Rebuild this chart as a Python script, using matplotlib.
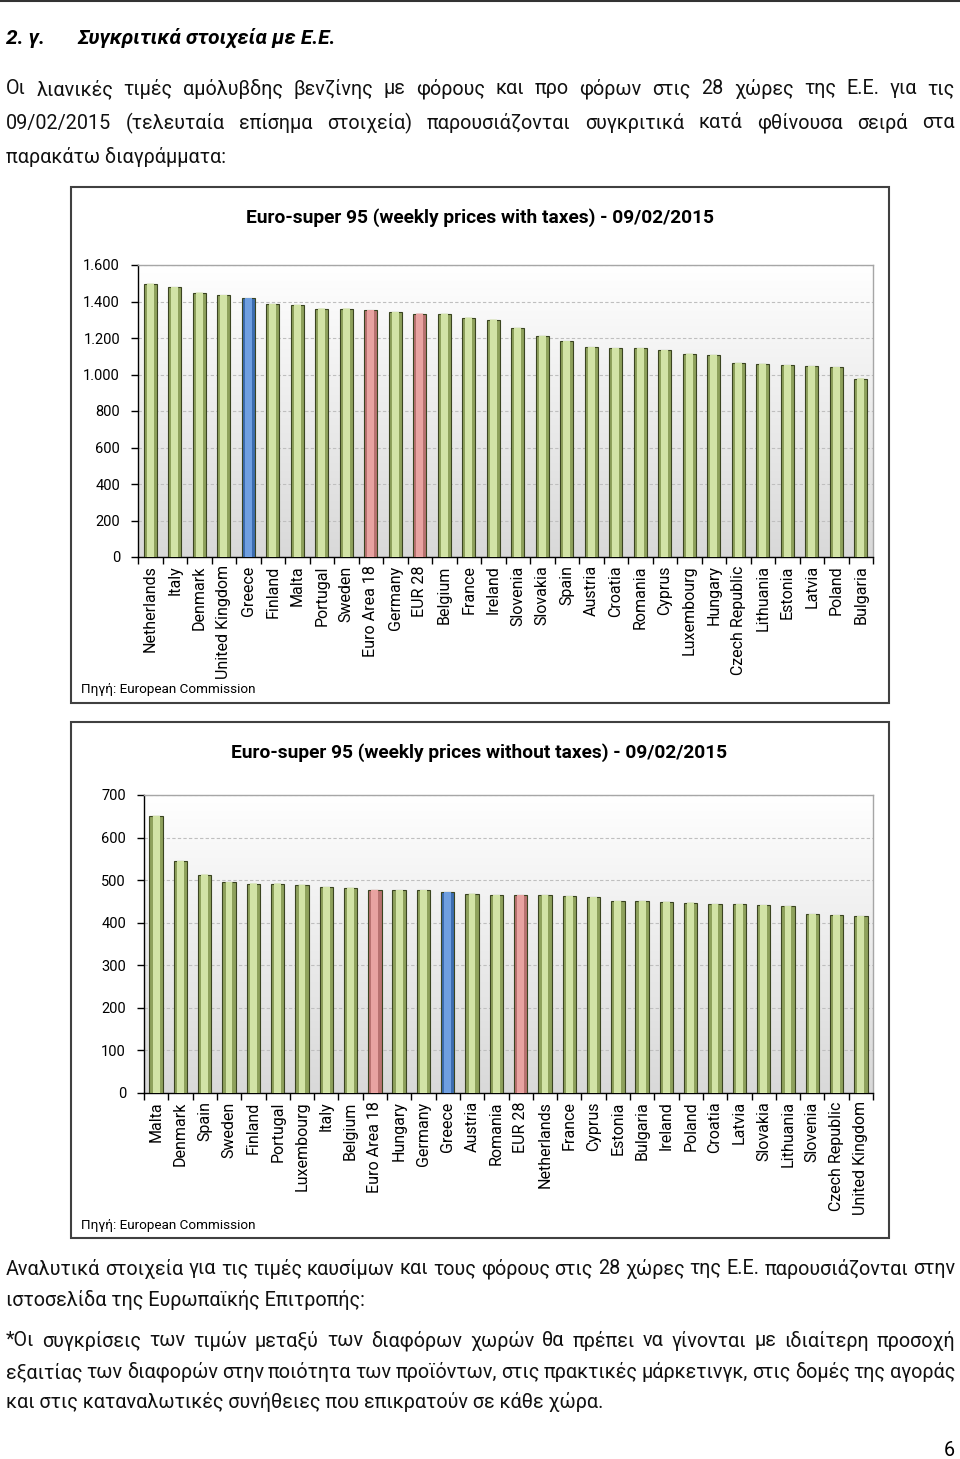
import numpy as np
import matplotlib
matplotlib.use('Agg')
import matplotlib.pyplot as plt
from matplotlib.patches import Rectangle
from matplotlib.ticker import FuncFormatter

plt.rcParams['font.family'] = ['Roboto', 'DejaVu Sans']

# chart 1: prices with taxes, 09/02/2015
countries_tax = ['Netherlands', 'Italy', 'Denmark', 'United Kingdom', 'Greece', 'Finland',
                 'Malta', 'Portugal', 'Sweden', 'Euro Area 18', 'Germany', 'EUR 28',
                 'Belgium', 'France', 'Ireland', 'Slovenia', 'Slovakia', 'Spain', 'Austria',
                 'Croatia', 'Romania', 'Cyprus', 'Luxembourg', 'Hungary', 'Czech Republic',
                 'Lithuania', 'Estonia', 'Latvia', 'Poland', 'Bulgaria']
prices_tax = [1497, 1477, 1448, 1434, 1417, 1386, 1381, 1361, 1361, 1352, 1342, 1333,
              1332, 1311, 1300, 1255, 1211, 1182, 1149, 1144, 1144, 1133, 1113, 1107,
              1063, 1058, 1051, 1045, 1040, 978]

# chart 2: prices without taxes
countries_notax = ['Malta', 'Denmark', 'Spain', 'Sweden', 'Finland', 'Portugal', 'Luxembourg',
                   'Italy', 'Belgium', 'Euro Area 18', 'Hungary', 'Germany', 'Greece',
                   'Austria', 'Romania', 'EUR 28', 'Netherlands', 'France', 'Cyprus',
                   'Estonia', 'Bulgaria', 'Ireland', 'Poland', 'Croatia', 'Latvia',
                   'Slovakia', 'Lithuania', 'Slovenia', 'Czech Republic', 'United Kingdom']
prices_notax = [651, 545, 513, 495, 492, 492, 489, 484, 482, 477, 476, 476, 472, 468, 465,
                465, 465, 462, 460, 451, 451, 449, 447, 443, 443, 441, 439, 420, 417, 415]

W, H = 960, 1459
fig = plt.figure(figsize=(W / 100, H / 100), dpi=100)


def fx(px):
    return px / W


def fy(py):
    return 1 - py / H


def put_line(text, y, x0=6, x1=955, justify=True, **kw):
    if not justify:
        fig.text(fx(x0), fy(y), text, va='center', ha='left', **kw)
        return
    words = text.split(' ')
    arts = [fig.text(fx(x0), fy(y), w, va='center', ha='left', **kw) for w in words]
    r = fig.canvas.get_renderer()
    widths = [a.get_window_extent(r).width for a in arts]
    gap = (x1 - x0 - sum(widths)) / (len(words) - 1)
    x = x0
    for a, w in zip(arts, widths):
        a.set_x(fx(x))
        x += w + gap


def bar_colors(names):
    base, light = [], []
    for n in names:
        if n == 'Greece':
            base.append('#3c6db0'); light.append('#6f9fe0')
        elif n in ('Euro Area 18', 'EUR 28'):
            base.append('#b87270'); light.append('#e8a3a1')
        else:
            base.append('#8ea15c'); light.append('#d2e3a6')
    return base, light


def draw_chart(ax, names, vals, ymax, step):
    x = np.arange(len(names))
    # background gradient
    grad = np.linspace(1.0, 0.85, 256)[:, None] * np.ones((1, 3))
    ax.imshow(grad.reshape(256, 1, 3), extent=[-0.5, len(names) - 0.5, 0, ymax],
              aspect='auto', zorder=0, origin='upper')
    base, light = bar_colors(names)
    ax.bar(x, vals, width=0.55, color=base, edgecolor='#3a4420', linewidth=0.8, zorder=3)
    ax.bar(x, vals, width=0.28, color=light, linewidth=0, zorder=4)
    ax.scatter(x, np.array(vals) - ymax * 0.012, marker='v', s=28, c=light,
               edgecolors='none', zorder=5)
    ax.set_xlim(-0.5, len(names) - 0.5)
    ax.set_ylim(0, ymax)
    ax.set_yticks(np.arange(0, ymax + 1, step))
    ax.yaxis.set_major_formatter(FuncFormatter(lambda v, p: f'{v:,.0f}'.replace(',', '.')))
    ax.grid(axis='y', linestyle=(0, (3, 2)), color='#bfbfbf', linewidth=0.8, zorder=1)
    ax.set_axisbelow(True)
    ax.set_xticks(np.arange(-0.5, len(names)), labels=[])
    ax.set_xticks(x, labels=names, minor=True, rotation=90, fontsize=11.5)
    ax.tick_params(axis='x', which='major', length=5, direction='out', width=1)
    ax.tick_params(axis='x', which='minor', length=0, pad=6)
    ax.tick_params(axis='y', length=5, width=1, labelsize=10.5, pad=8)
    for s in ('left', 'bottom'):
        ax.spines[s].set_color('black')
        ax.spines[s].set_linewidth(1)
    for s in ('top', 'right'):
        ax.spines[s].set_color('#a6a6a6')
        ax.spines[s].set_linewidth(1)


# page rule
fig.add_artist(plt.Line2D([0, 1], [fy(1), fy(1)], color='#333333', linewidth=1.5))

# heading
fig.text(fx(6), fy(38), '2. γ.', fontsize=15, fontweight='bold', fontstyle='italic', va='center')
fig.text(fx(77), fy(38), 'Συγκριτικά στοιχεία με Ε.Ε.', fontsize=15, fontweight='bold',
         fontstyle='italic', va='center')

txt = dict(fontsize=14.2, color='#111111')
put_line('Οι λιανικές τιμές αμόλυβδης βενζίνης με φόρους και προ φόρων στις 28 χώρες της Ε.Ε. για τις',
         89, **txt)
put_line('09/02/2015 (τελευταία επίσημα στοιχεία) παρουσιάζονται συγκριτικά κατά φθίνουσα σειρά στα',
         123, **txt)
put_line('παρακάτω διαγράμματα:', 157, justify=False, **txt)

# chart boxes
for top, bot in ((187, 703), (722, 1238)):
    fig.add_artist(Rectangle((fx(71), fy(bot)), fx(889) - fx(71), fy(top) - fy(bot),
                             fill=False, edgecolor='#404040', linewidth=1.5))

# chart 1
ax1 = fig.add_axes([fx(138), fy(557), fx(873) - fx(138), fy(265) - fy(557)])
draw_chart(ax1, countries_tax, prices_tax, 1600, 200)
fig.text(fx(480), fy(218), 'Euro-super 95 (weekly prices with taxes) - 09/02/2015',
         ha='center', va='center', fontsize=13.8, fontweight='bold')
fig.text(fx(81), fy(690), 'Πηγή: European Commission', fontsize=9.7, va='center')

# chart 2
ax2 = fig.add_axes([fx(144), fy(1093), fx(873) - fx(144), fy(795) - fy(1093)])
draw_chart(ax2, countries_notax, prices_notax, 700, 100)
fig.text(fx(479), fy(753), 'Euro-super 95 (weekly prices without taxes) - 09/02/2015',
         ha='center', va='center', fontsize=13.8, fontweight='bold')
fig.text(fx(81), fy(1225), 'Πηγή: European Commission', fontsize=9.7, va='center')

# bottom text
put_line('Αναλυτικά στοιχεία για τις τιμές καυσίμων και τους φόρους στις 28 χώρες της Ε.Ε. παρουσιάζονται στην',
         1269, **txt)
put_line('ιστοσελίδα της Ευρωπαϊκής Επιτροπής:', 1300, justify=False, **txt)
put_line('*Οι συγκρίσεις των τιμών μεταξύ των διαφόρων χωρών θα πρέπει να γίνονται με ιδιαίτερη προσοχή',
         1341, **txt)
put_line('εξαιτίας των διαφορών στην ποιότητα των προϊόντων, στις πρακτικές μάρκετινγκ, στις δομές της αγοράς',
         1372, **txt)
put_line('και στις καταναλωτικές συνήθειες που επικρατούν σε κάθε χώρα.', 1402, justify=False, **txt)
fig.text(fx(955), fy(1450), '6', fontsize=14.2, ha='right', va='center')

fig.savefig('out.png', dpi=100)
